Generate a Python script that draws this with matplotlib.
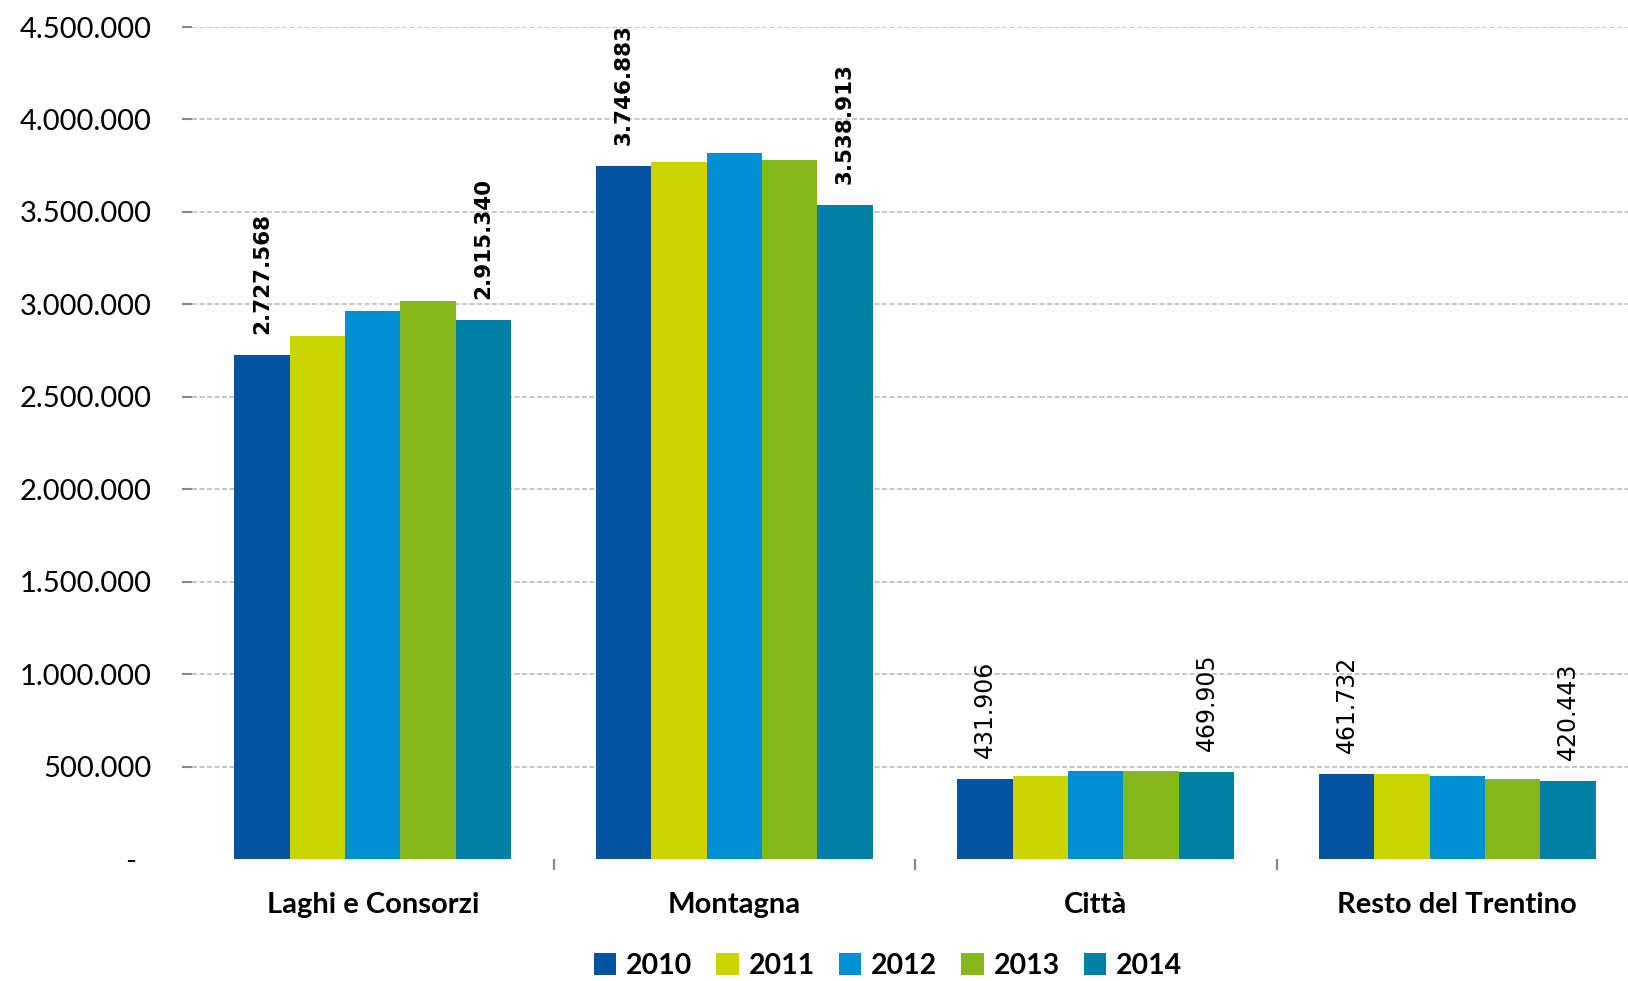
"""Bar chart: presenze per ambito turistico, 2010-2014."""

import matplotlib

matplotlib.use("Agg")
import matplotlib.pyplot as plt  # noqa: E402
import numpy as np  # noqa: E402
from matplotlib.patches import Patch  # noqa: E402
from matplotlib.ticker import FuncFormatter, FixedLocator  # noqa: E402

categories = ["Laghi e Consorzi", "Montagna", "Città", "Resto del Trentino"]
years = ["2010", "2011", "2012", "2013", "2014"]
colors = ["#0054A0", "#CBD300", "#008FD0", "#85B61A", "#0080A4"]

values_2010 = [2727568, 3746883, 431906, 461732]
values_2011 = [2830000, 3768000, 449000, 460000]
values_2012 = [2965000, 3817000, 476000, 449000]
values_2013 = [3019000, 3779000, 475000, 433000]
values_2014 = [2915340, 3538913, 469905, 420443]
series = [values_2010, values_2011, values_2012, values_2013, values_2014]

# only first and last year carry a data label
labelled = {0, 4}


def it_thousands(v, _pos=None):
    if v == 0:
        return "-  "
    return f"{int(v):,}".replace(",", ".")


fig = plt.figure(figsize=(16.28, 9.81), dpi=100)
ax = fig.add_axes([192 / 1628, 1 - 859 / 981, 1436 / 1628, 832 / 981])

x = np.arange(len(categories))
bar_w = 0.1533
for i, (vals, col) in enumerate(zip(series, colors)):
    pos = x + (i - 2) * bar_w
    ax.bar(pos, vals, width=bar_w, color=col, zorder=3, linewidth=0)
    if i in labelled:
        for j, (px, v) in enumerate(zip(pos, vals)):
            big = j < 2
            ax.annotate(
                it_thousands(v),
                (px, v),
                xytext=(0, 15),
                textcoords="offset points",
                rotation=90,
                ha="center",
                va="bottom",
                fontsize=15.5 if big else 17,
                fontweight="bold" if big else "normal",
                family="DejaVu Sans",
                color="#000000",
            )

ax.set_xlim(-0.5, -0.5 + 1436 / 361.5)
ax.set_ylim(0, 4500000)
ax.set_yticks(np.arange(0, 4500001, 500000))
ax.yaxis.set_major_formatter(FuncFormatter(it_thousands))
ax.grid(axis="y", color="#BDBDBD", linestyle=(0, (3, 1.5)), linewidth=1.2, zorder=0)
# no gridline and no tick mark at zero
ax.yaxis.get_gridlines()[0].set_visible(False)
ax.yaxis.get_major_ticks()[0].tick1line.set_visible(False)

ax.set_xticks(x)
ax.set_xticklabels(categories, fontsize=21, fontweight="bold", family="Lato")
ax.xaxis.set_minor_locator(FixedLocator([0.5, 1.5, 2.5]))
ax.tick_params(axis="x", which="major", length=0, pad=23.5)
ax.tick_params(axis="x", which="minor", length=8, width=1.6, color="#888888")
ax.tick_params(axis="y", length=7, width=1.5, color="#888888", pad=22)
for lbl in ax.get_yticklabels():
    lbl.set_fontsize(21)
    lbl.set_family("Lato")

for side in ["top", "right", "left", "bottom"]:
    ax.spines[side].set_visible(False)

handles = [Patch(facecolor=c, edgecolor="none", label=y) for y, c in zip(years, colors)]
fig.legend(
    handles=handles,
    loc="center",
    bbox_to_anchor=(888 / 1628, 1 - 966 / 981),
    ncol=5,
    frameon=False,
    prop={"family": "Lato", "weight": "bold", "size": 20.5},
    handlelength=0.78,
    handleheight=0.78,
    handletextpad=0.35,
    columnspacing=0.85,
    borderpad=0.1,
)

fig.savefig("out.png", dpi=100)
plt.close(fig)
